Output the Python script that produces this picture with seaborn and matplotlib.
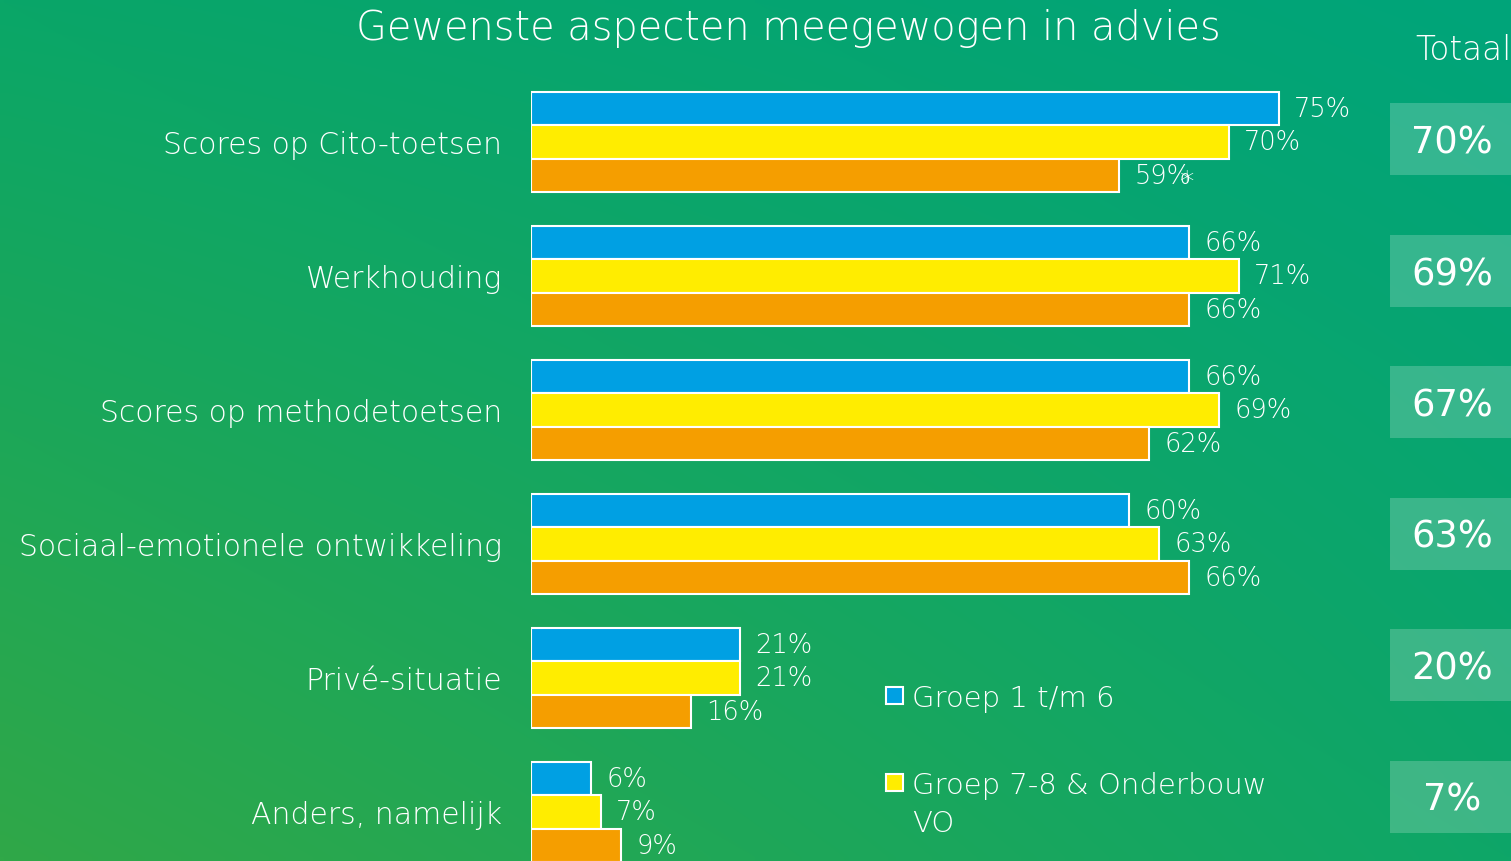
import numpy as np
import pandas as pd
import matplotlib.pyplot as plt
from matplotlib.patches import Rectangle
import seaborn as sns

# data
categories = ['Scores op Cito-toetsen', 'Werkhouding', 'Scores op methodetoetsen',
              'Sociaal-emotionele ontwikkeling', 'Privé-situatie', 'Anders, namelijk']
groep_1_6 = [75, 66, 66, 60, 21, 6]
groep_7_8 = [70, 71, 69, 63, 21, 7]
groep_vo = [59, 66, 62, 66, 16, 9]
totaal = [70, 69, 67, 63, 20, 7]
series_names = ['Groep 1 t/m 6', 'Groep 7-8 & Onderbouw\nVO', 'Overig']
colors = ['#00A0E3', '#FFED00', '#F59E00']

df = pd.DataFrame({
    'aspect': categories * 3,
    'pct': groep_1_6 + groep_7_8 + groep_vo,
    'groep': [series_names[0]] * 6 + [series_names[1]] * 6 + [series_names[2]] * 6,
})

W, H = 1511, 862
fig = plt.figure(figsize=(W / 100, H / 100), dpi=100)
plt.rcParams['font.family'] = ['DejaVu Sans']
FW = 200  # thin weight

# green gradient background
bg = fig.add_axes([0, 0, 1, 1], zorder=-10)
bg.axis('off')
tl = np.array([10, 166, 104]) / 255
tr = np.array([0, 164, 122]) / 255
bl = np.array([48, 168, 72]) / 255
br = np.array([14, 166, 104]) / 255
xx, yy = np.meshgrid(np.linspace(0, 1, 200), np.linspace(0, 1, 120))
img = (tl * ((1 - xx) * (1 - yy))[..., None] + tr * (xx * (1 - yy))[..., None]
       + bl * ((1 - xx) * yy)[..., None] + br * (xx * yy)[..., None])
bg.imshow(img, aspect='auto', extent=[0, 1, 1, 0], interpolation='bilinear')
bg.set_xlim(0, 1)
bg.set_ylim(1, 0)

# bar axes: x=0 at pixel 531, ~9.97 px per percent
x0 = 531
ppp = 9.97
ax = fig.add_axes([x0 / W, 0, 1 - x0 / W, 1])
ax.patch.set_alpha(0)
sns.barplot(data=df, x='pct', y='aspect', hue='groep', palette=colors,
            saturation=1, orient='h', width=0.75, edgecolor='white',
            linewidth=1.5, legend=False, ax=ax)
ax.set_xlim(0, (W - x0) / ppp)
ax.set_ylim((H - 143) / 134, -143 / 134)
for s in ax.spines.values():
    s.set_visible(False)
ax.set_xticks([])
ax.set_xlabel('')
ax.set_ylabel('')
ax.tick_params(axis='y', length=0, pad=21, labelsize=21.5, labelcolor='white')
for lab in ax.get_yticklabels():
    lab.set_fontweight(FW)

# value labels
for cont in ax.containers:
    labels = [f'{int(v)}%' for v in cont.datavalues]
    ax.bar_label(cont, labels=labels, padding=11, color='white', fontsize=18.5,
                 fontweight=FW)

# asterisk overlapping the 59% label (as in the reference)
first_vo = ax.containers[2][0]
ax.annotate('*', (first_vo.get_width(), first_vo.get_y() + first_vo.get_height() / 2),
            xytext=(44, -5), textcoords='offset points', color='white',
            fontsize=21, va='center', ha='left', fontweight=FW)

# title
fig.text(788 / W, 1 - 29 / H, 'Gewenste aspecten meegewogen in advies',
         color='white', fontsize=28.7, ha='center', va='center', fontweight=FW)

# totals column
fig.text(1463 / W, 1 - 50 / H, 'Totaal', color='white', fontsize=23.5,
         ha='center', va='center', fontweight=FW)
for i, t in enumerate(totaal):
    yc = 140 + 131.5 * i
    fig.patches.append(Rectangle((1390 / W, 1 - (yc + 36) / H), 125 / W, 72 / H,
                                 transform=fig.transFigure, facecolor='white',
                                 alpha=0.2, edgecolor='none'))
    fig.text(1452 / W, 1 - (yc + 3) / H, f'{t}%', color='white', fontsize=26.5,
             ha='center', va='center')

# legend (only the first two series are shown in the reference)
for name, col, yc in zip(series_names[:2], colors[:2], [697, 784]):
    fig.patches.append(Rectangle((886 / W, 1 - (yc + 8) / H), 17 / W, 17 / H,
                                 transform=fig.transFigure, facecolor=col,
                                 edgecolor='white', linewidth=1.5))
    fig.text(912 / W, 1 - (yc - 12) / H, name, color='white', fontsize=21,
             ha='left', va='top', linespacing=1.45, fontweight=FW)

fig.savefig('out.png', dpi=100)
